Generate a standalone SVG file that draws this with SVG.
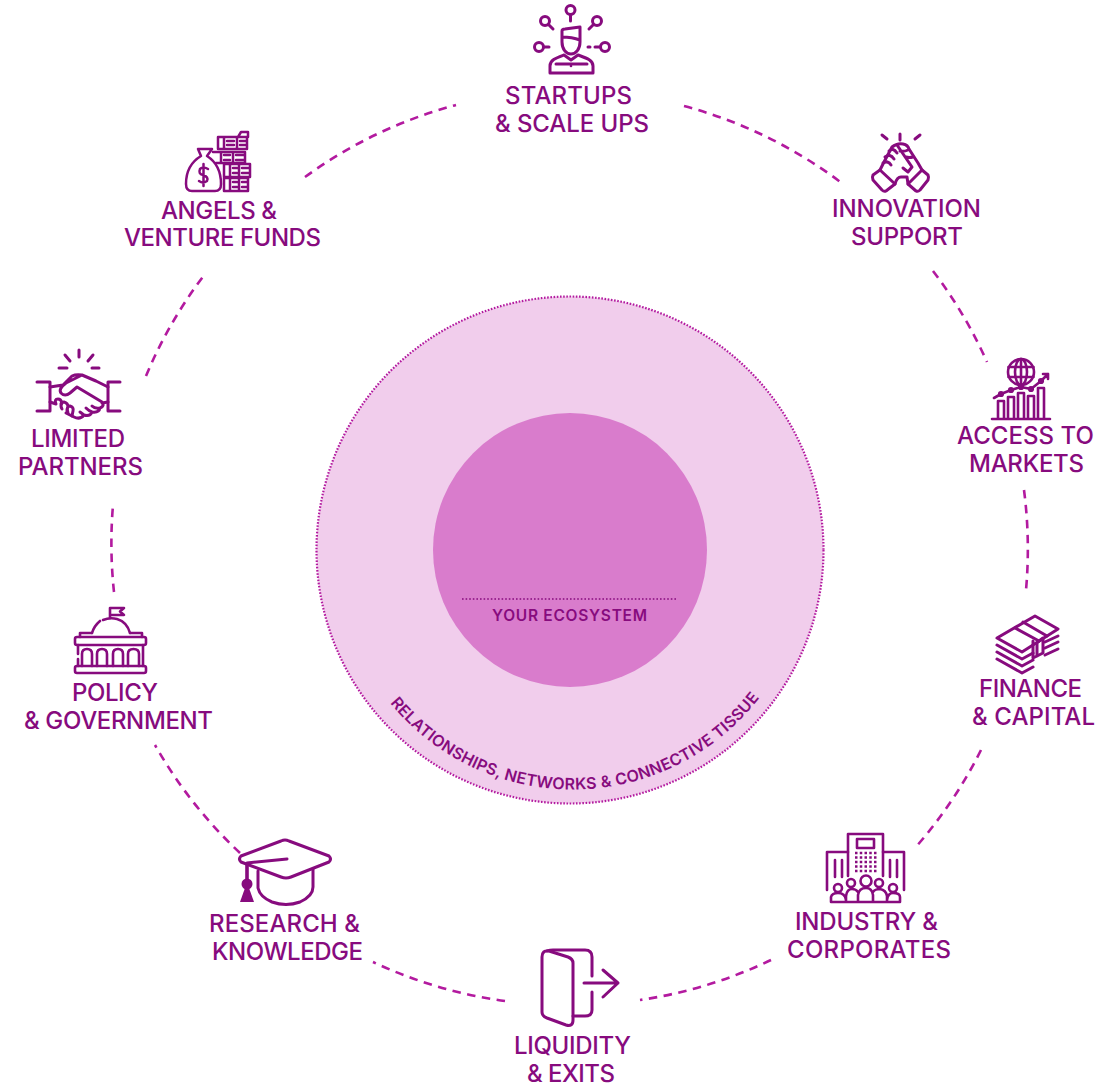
<svg xmlns="http://www.w3.org/2000/svg" xmlns:xlink="http://www.w3.org/1999/xlink" width="1099" height="1088" viewBox="0 0 1099 1088">
<style>
text{font-family:"Inter","Liberation Sans",sans-serif;fill:#870b7e}
.l{font-size:24px;font-weight:500}
.i{fill:none;stroke:#870b7e;stroke-width:3;stroke-linecap:round;stroke-linejoin:round}
.f{fill:#870b7e;stroke:none}
.c path{fill:none;stroke:#b31a9f;stroke-width:2.600;stroke-dasharray:8.500 6.500}
</style>
<rect width="1099" height="1088" fill="#fff"/>
<g id="ecosystem">
<circle cx="570" cy="550" r="253.500" fill="#f1cdec" stroke="#b31a9f" stroke-width="2.200" stroke-dasharray="1.600 1.600"/>
<circle cx="570" cy="550" r="137" fill="#d97ccc"/>
<path d="M462 599H677" stroke="#870b7e" stroke-width="1.600" stroke-dasharray="1.600 2" fill="none"/>
<text x="492" y="621" font-size="15.500" font-weight="600" textLength="155">YOUR ECOSYSTEM</text>
<path id="arc" d="M390 703A236 236 0 0 0 763 693" fill="none"/>
<text font-size="16" font-weight="600"><textPath xlink:href="#arc" href="#arc" textLength="424">RELATIONSHIPS, NETWORKS &amp; CONNECTIVE TISSUE</textPath></text>
</g>
<g id="connectors" class="c">
<path d="M305 177A457 457 0 0 1 456 105"/>
<path d="M684 106A457 457 0 0 1 843 184"/>
<path d="M933 271A457 457 0 0 1 987 362"/>
<path d="M1024 490A457 457 0 0 1 1026 590"/>
<path d="M981 750A457 457 0 0 1 915 848"/>
<path d="M771 960A457 457 0 0 1 640 1000"/>
<path d="M505 1001A457 457 0 0 1 373 962"/>
<path d="M240 853A457 457 0 0 1 155 745"/>
<path d="M114 592A457 457 0 0 1 113 505"/>
<path d="M146 376A457 457 0 0 1 205 274"/>
</g>
<g id="startups">
<g class="i">
<circle cx="570.500" cy="10" r="4.500"/><path d="M570.500 15V21"/>
<circle cx="545" cy="21" r="4.500"/><path d="M548.500 24.500L553 29"/>
<circle cx="597" cy="21" r="4.500"/><path d="M593.500 24.500L589 29"/>
<circle cx="539" cy="47" r="4.500"/><path d="M544 47H549"/>
<circle cx="605" cy="47" r="4.500"/><path d="M600 47H595M590 47H588"/>
<path d="M562 42V31Q562 29 565 29L580 27V42C580 49 576 54 571 54S562 49 562 42ZM562 37Q572 37 580 40"/>
<path d="M550 73V66C550 60 556 58 564 55L571 60L578 55C586 58 593 60 593 66V73ZM556 64H587"/>
<circle class="f" cx="571" cy="66" r="1.300"/>
</g>
<text class="l" x="505" y="104" textLength="127">STARTUPS</text>
<text class="l" x="495" y="132" textLength="154">&amp; SCALE UPS</text>
</g>
<g id="angels">
<g class="i" style="stroke-width:2.500">
<path d="M198 149H212L207 156Q221 165 221 184Q221 191 215 191H192Q186 191 186 184Q186 165 201 156Z"/>
<path d="M208 169Q203 166 200 169Q198 174 203 175Q209 177 207 181Q203 184 199 181M203.500 164V186"/>
<path d="M238 137L241 132H248V137H218V149H247V137M224 137V149M237 137V149M227 141H234M227 145H234M240 141H247M240 145H247"/>
<path d="M213 152H245V163H216M221 152V163M233 152V163M224 155H230M224 160H230M236 155H245M236 160H245"/>
<path d="M224 164H250V177H224ZM230 164V177M239 164V177M233 168H237M233 173H237M242 168H250M242 173H250"/>
<path d="M224 178H248V191H224ZM230 178V191M239 178V191M233 182H237M233 187H237M242 182H248M242 187H248"/>
</g>
<text class="l" x="161" y="219" textLength="116">ANGELS &amp;</text>
<text class="l" x="124" y="246" textLength="197">VENTURE FUNDS</text>
</g>
<g id="innovation">
<g class="i">
<path d="M882 135L887 139M900 134V140M920 135L915 139"/>
<path d="M873 175L880 170L895 184L886 191Q884 192 882 190L873 180Q872 177 873 175Z"/>
<path d="M928 175L922 170L908 184L916 191Q918 192 920 190L928 180Q929 177 928 175Z"/>
<path d="M880 170L884 162L892 147Q897 143 903 144Q908 145 909 149L918 163L922 170"/>
<path d="M883 163Q888 160 891 165M885 157Q890 153 894 159M889 151Q893 147 897 153M897 145L912 167L908 172L903 168M908 150Q904 152 900 151M913 157Q909 158 906 157"/>
<path d="M895 184Q897 177 901 177H907L908 184"/>
</g>
<text class="l" x="832" y="217" textLength="149">INNOVATION</text>
<text class="l" x="851" y="245" textLength="112">SUPPORT</text>
</g>
<g id="partners">
<g class="i">
<path d="M79 350V357M65 355L70 361M93 355L88 361M59 368H67M92 368H99"/>
<path d="M37 382H50V411H37M120 382H108V411H120"/>
<path d="M50 387L63 385L72 376Q76 374 82 375L96 381L108 387M82 375L66 383Q58 389 61 393Q65 397 70 393L77 387L102 402Q105 406 100 408Q95 409 92 406M100 408Q99 413 92 412Q89 411 86 408M92 412Q90 417 84 415L80 412M84 415Q80 420 74 417Q68 414 66 413M108 402L102 403"/>
<path d="M50 402L56 404Q54 399 58 399Q61 399 62 403Q60 406 62 409Q59 402 64 402Q68 403 68 407Q66 410 68 413Q66 406 70 406Q74 407 73 411L72 416"/>
</g>
<text class="l" x="31" y="447" textLength="94">LIMITED</text>
<text class="l" x="18" y="475" textLength="125">PARTNERS</text>
</g>
<g id="markets">
<g class="i" style="stroke-width:2.600">
<circle cx="1021" cy="372" r="13"/>
<ellipse cx="1021" cy="372" rx="6" ry="13"/>
<path d="M1021 359V385M1008.500 367H1033.500M1008.500 377H1033.500"/>
<path d="M992 419H1050M998 419V401H1004V419M1008 419V397H1014V419M1018 419V393H1024V419M1028 419V396H1034V419M1038 419V388H1044V419"/>
<path d="M994 398L1001 394L1011 390L1021 387L1031 389L1041 381L1048 374M1043 374H1048V379"/>
<circle cx="1001" cy="394" r="1.800"/><circle cx="1011" cy="390" r="1.800"/><circle cx="1021" cy="387" r="1.800"/><circle cx="1031" cy="389" r="1.800"/><circle cx="1041" cy="381" r="1.800"/>
</g>
<text class="l" x="957" y="444" textLength="137">ACCESS TO</text>
<text class="l" x="969" y="472" textLength="115">MARKETS</text>
</g>
<g id="policy">
<g class="i" style="stroke-width:2.600">
<path d="M110 618V608H124L120 611.500L124 615H110"/>
<path d="M92 633Q94 626 100 621M103 620Q110 617 117 619Q127 622 130 633"/>
<path d="M80 637V633H92M130 633H142V637"/>
<rect x="75" y="637" width="71" height="8" rx="2"/>
<rect x="75" y="666" width="71" height="7" rx="2"/>
<path d="M78 645V654M78 659V666M143 645V666"/>
<path d="M82 666V654Q82 649 87 649Q92 649 92 654V666M97 666V654Q97 649 102 649Q107 649 107 654V666M113 666V654Q113 649 118 649Q123 649 123 654V666M128 666V654Q128 649 133.500 649Q139 649 139 654V666"/>
</g>
<text class="l" x="72" y="701" textLength="86">POLICY</text>
<text class="l" x="24" y="729" textLength="189">&amp; GOVERNMENT</text>
</g>
<g id="finance">
<g class="i">
<path d="M997 638L1035 616L1058 629L1022 652Z"/>
<path d="M1015 628L1039 641M1023 622L1047 636"/>
<path d="M997 645L1022 659L1033 653M997 652L1022 666L1033 660M997 659L1022 673L1033 667"/>
<path d="M1033 641V658L1037 656L1043 653V638L1039 641L1037 643V656"/>
<path d="M1045 642L1058 636M1045 648L1058 642M1045 655L1058 649"/>
</g>
<text class="l" x="979" y="697" textLength="103">FINANCE</text>
<text class="l" x="972" y="725" textLength="123">&amp; CAPITAL</text>
</g>
<g id="research">
<g class="i">
<path d="M241 856L281 841Q285 839 289 841L329 856Q332 859 329 862L291 877Q286 879 281 877L241 862Q238 859 241 856Z"/>
<path d="M247 863L287 859"/>
<path d="M247 864V882" style="stroke-width:3.600"/>
<path d="M258 871V888Q260 897 272 902Q286 907 300 902Q313 896 313 887V869"/>
<circle class="f" cx="247" cy="884" r="5.500"/>
<path class="f" d="M245 888H249L254 902H240Z"/>
</g>
<text class="l" x="209" y="932" textLength="151">RESEARCH &amp;</text>
<text class="l" x="212" y="960" textLength="151">KNOWLEDGE</text>
</g>
<g id="industry">
<g class="i" style="stroke-width:2.600">
<path d="M848 876V834H883V876"/>
<rect x="857" y="839" width="17" height="9"/>
<path d="M848 852H827V890M883 852H904V890"/>
<path d="M835 860V877M842 860V877M890 860V877M897 860V877"/>
<circle cx="866" cy="881" r="5.500"/><circle cx="851" cy="883" r="4"/><circle cx="879" cy="883" r="4"/><circle cx="838" cy="888" r="4"/><circle cx="893" cy="888" r="4"/>
<path d="M831 902H900M831 902V897Q832 893 838 893Q845 893 846 900V902M846 902V896Q847 889 852 889Q856 889 858 892M858 902V895Q859 888 866 888Q872 888 873 895V902M873 892Q875 889 880 889Q886 890 887 896V902M887 902V900Q888 893 893 893Q900 893 900 897V902"/>
</g>
<path d="M855 853h22M855 857.500h22M855 862h22M855 866.500h22M855 871h22" stroke="#870b7e" stroke-width="2.500" stroke-dasharray="2.500 2.250" fill="none"/>
<text class="l" x="795" y="930" textLength="143">INDUSTRY &amp;</text>
<text class="l" x="787" y="958" textLength="164">CORPORATES</text>
</g>
<g id="liquidity">
<g class="i">
<path d="M547 951Q550 950 553 950H585Q592 950 592 957V976M592 992V1010Q592 1016 585 1016H573"/>
<path d="M542 957Q542 950 549 951L568 957Q573 959 573 963V1020Q573 1027 566 1025L547 1018Q542 1016 542 1012Z"/>
<path d="M584 983H618M603 970L618 983L603 997"/>
</g>
<text class="l" x="514" y="1054" textLength="117">LIQUIDITY</text>
<text class="l" x="527" y="1082" textLength="88">&amp; EXITS</text>
</g>
</svg>
